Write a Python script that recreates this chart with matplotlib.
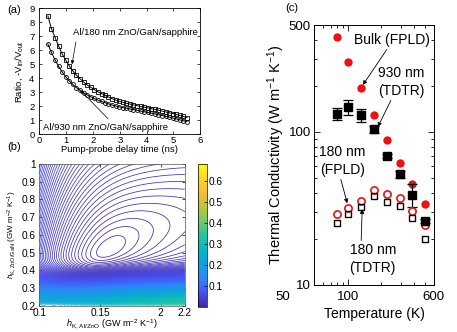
import numpy as np
import matplotlib
matplotlib.use("Agg")
import matplotlib.pyplot as plt
from matplotlib.colors import LinearSegmentedColormap
from matplotlib.ticker import FixedLocator, NullFormatter
from matplotlib.transforms import ScaledTranslation

plt.rcParams['font.family'] = ['Liberation Sans', 'DejaVu Sans']
plt.rcParams['mathtext.fontset'] = 'custom'
plt.rcParams['mathtext.rm'] = 'Liberation Sans'
plt.rcParams['mathtext.it'] = 'Liberation Sans:italic'

# (a) ratio vs delay time
delay = [0.32, 0.45, 0.59, 0.72, 0.85, 0.99, 1.12, 1.25, 1.38, 1.52,
         1.65, 1.78, 1.92, 2.05, 2.18, 2.32, 2.45, 2.58, 2.71, 2.85,
         2.98, 3.11, 3.25, 3.38, 3.51, 3.65, 3.78, 3.91, 4.04, 4.18,
         4.31, 4.44, 4.58, 4.71, 4.84, 4.98, 5.11, 5.24, 5.37, 5.51]
ratio_180 = [8.45, 7.55, 6.90, 6.30, 5.75, 5.28, 4.87, 4.52, 4.22, 3.96,
             3.73, 3.52, 3.35, 3.19, 3.04, 2.90, 2.77, 2.65, 2.54, 2.44,
             2.35, 2.28, 2.21, 2.15, 2.09, 2.03, 1.98, 1.93, 1.88, 1.82,
             1.77, 1.71, 1.65, 1.59, 1.53, 1.47, 1.41, 1.34, 1.27, 1.18]
ratio_930 = [6.45, 5.85, 5.30, 4.85, 4.45, 4.10, 3.80, 3.55, 3.33, 3.13,
             2.96, 2.81, 2.67, 2.55, 2.44, 2.34, 2.25, 2.16, 2.08, 2.01,
             1.95, 1.90, 1.85, 1.80, 1.75, 1.70, 1.65, 1.60, 1.55, 1.50,
             1.45, 1.39, 1.33, 1.27, 1.21, 1.15, 1.09, 1.02, 0.96, 0.89]

# (b) residual map parameters (best fit, widths, tilt, floor, bottom wall)
h_al_min, h_gan_min = 0.155, 0.5
width_al, width_gan, tilt = 0.00435, 0.0299, 1.3
res_floor = 2.5
ring_step = 0.0015
wall_height, wall_width = 0.21, 0.12

# (c) thermal conductivity vs temperature
temp = [80, 100, 132, 172, 226, 295, 377, 498]
k_bulk = [420, 286, 193, 129, 89, 63, 45.5, 34]
k_930 = [132, 146, 129, 104, 70, 53, 39, 26.3]
k_930_err = [12, 17, 13, 6, 2, 3, 6.5, 0.8]
k_180_fpld = [29.1, 32, 35.4, 41.8, 39.2, 36.9, 30.6, 24.7]
k_180_tdtr = [25.3, 29, 32.5, 38.3, 34.7, 32.8, 27.3, 19.9]

parula = LinearSegmentedColormap.from_list('parula', [
    (0.0, (0.2422, 0.1504, 0.6603)), (0.1, (0.2810, 0.3228, 0.9579)),
    (0.2, (0.1786, 0.5289, 0.9682)), (0.3, (0.0689, 0.6279, 0.8838)),
    (0.4, (0.0267, 0.7146, 0.7696)), (0.5, (0.1540, 0.7643, 0.6409)),
    (0.6, (0.4420, 0.7953, 0.4132)), (0.7, (0.7468, 0.7635, 0.2087)),
    (0.8, (0.9595, 0.7463, 0.2381)), (0.9, (0.9798, 0.8463, 0.1543)),
    (1.0, (0.9769, 0.9839, 0.0805))])

fig = plt.figure(figsize=(4.57, 3.32), dpi=100)
fs = 6.8

# ---- (a)
ax = fig.add_axes([0.086, 0.596, 0.352, 0.379])
ax.plot(delay, ratio_180, '-', color='k', lw=0.7)
ax.plot(delay, ratio_180, 's', mfc='none', mec='k', ms=2.8, mew=0.6)
ax.plot(delay, ratio_930, '-', color='k', lw=0.7)
ax.plot(delay, ratio_930, 'o', mfc='none', mec='k', ms=2.8, mew=0.6)
ax.set_xlim(0, 6)
ax.set_ylim(0, 9)
ax.set_xticks(range(7))
ax.set_yticks(range(10))
ax.tick_params(direction='in', top=True, right=True, labelsize=fs, length=2, width=0.5)
ax.tick_params(axis='x', pad=1)
ax.tick_params(axis='y', pad=3.5)
for s in ax.spines.values():
    s.set_linewidth(0.6)
ax.set_xlabel('Pump-probe delay time (ns)', fontsize=fs, labelpad=0)
ax.set_ylabel('Ratio, -V$_{\\rm in}$/V$_{\\rm out}$', fontsize=fs, labelpad=3)
ax.annotate('Al/180 nm ZnO/GaN/sapphire', xy=(1.22, 5.0), xytext=(1.26, 7.3),
            fontsize=fs, va='center', ha='left',
            arrowprops=dict(arrowstyle='-|>', lw=0.5, color='k', mutation_scale=5,
                            shrinkA=2, shrinkB=0, relpos=(0.03, 0)))
ax.annotate('Al/930 nm ZnO/GaN/sapphire', xy=(1.52, 3.15), xytext=(0.14, 0.5),
            fontsize=fs, va='center', ha='left',
            arrowprops=dict(arrowstyle='-|>', lw=0.5, color='k', mutation_scale=5,
                            shrinkA=1, shrinkB=0, relpos=(0.55, 1)))
fig.text(0.015, 0.985, '(a)', fontsize=8, va='top')

# ---- (b)
fb = 7.3
axb = fig.add_axes([0.0864, 0.0783, 0.318, 0.428])
hx = np.linspace(0.1, 0.22, 500)
hy = np.linspace(0.2, 1.0, 500)
X, Y = np.meshgrid(hx, hy)
un = (1 - (h_al_min / X) ** 2) / 2 * h_al_min / width_al
vn = (Y - h_gan_min) / width_gan
g = un**2 + vn**2 - tilt * un * vn
F = ring_step * np.sqrt(res_floor**2 + g)
F += wall_height * np.exp(-((Y - 0.2) / wall_width) ** 2) * (1 + 0.5 * (X - 0.1) / 0.12)
levels = np.arange(ring_step * 3.5, 0.68, ring_step)
axb.contour(X, Y, F, levels=levels, cmap=parula, vmin=0, vmax=0.68, linewidths=0.55)
axb.set_xlim(0.1, 0.22)
axb.set_ylim(0.2, 1.0)
axb.set_xticks([0.1, 0.15, 0.2, 0.22])
axb.set_xticklabels(['0.1', '0.15', '2', '2.2'])
axb.set_yticks(np.arange(0.2, 1.01, 0.1))
axb.set_yticklabels(['0.2', '0.3', '0.4', '0.5', '0.6', '0.7', '0.8', '0.9', '1'])
axb.tick_params(direction='in', top=True, right=True, labelsize=fb, length=2, width=0.5, pad=2.5)
axb.tick_params(axis='x', pad=1.5)
for s in axb.spines.values():
    s.set_linewidth(0.5)
    s.set_color('#555555')
axb.set_xlabel('$h_{\\rm K,\\,Al/ZnO}$ (GW m$^{-2}$ K$^{-1}$)', fontsize=6.5, labelpad=0)
axb.set_ylabel('$h_{\\rm K,\\,ZnO/GaN}$ (GW m$^{-2}$ K$^{-1}$)', fontsize=5.8, labelpad=2)
cax = fig.add_axes([0.433, 0.0753, 0.0197, 0.431])
sm = plt.cm.ScalarMappable(cmap=parula, norm=plt.Normalize(0, 0.68))
cb = fig.colorbar(sm, cax=cax)
cb.set_ticks([0.1, 0.2, 0.3, 0.4, 0.5, 0.6])
cb.ax.tick_params(direction='in', labelsize=fb, length=2, width=0.5, pad=1.5)
cb.outline.set_linewidth(0.5)
fig.text(0.015, 0.572, '(b)', fontsize=8, va='top')

# ---- (c)
fc = 10
axc = fig.add_axes([0.688, 0.1416, 0.2615, 0.783])
axc.plot(temp, k_bulk, 'o', color='#ee1111', ms=6, mec='none')
axc.errorbar(temp, k_930, yerr=k_930_err, fmt='s', color='k', ms=5.2,
             capsize=3.4, elinewidth=0.9, capthick=0.9)
axc.plot(temp, k_180_fpld, 'o', mfc='none', mec='#ee1111', ms=5.2, mew=1.2)
axc.plot(temp, k_180_tdtr, 's', mfc='none', mec='k', ms=4.8, mew=1.0)
axc.set_xscale('log')
axc.set_yscale('log')
axc.set_xlim(50, 600)
axc.set_ylim(10, 500)
axc.xaxis.set_major_locator(FixedLocator([50, 100, 600]))
axc.xaxis.set_minor_locator(FixedLocator([60, 70, 80, 90, 200, 300, 400, 500]))
axc.xaxis.set_minor_formatter(NullFormatter())
axc.set_xticklabels(['50', '100', '600'])
axc.yaxis.set_major_locator(FixedLocator([10, 100, 500]))
axc.yaxis.set_minor_locator(FixedLocator([20, 30, 40, 50, 60, 70, 80, 90, 200, 300, 400]))
axc.yaxis.set_minor_formatter(NullFormatter())
axc.set_yticklabels(['10', '100', '500'])
axc.tick_params(which='both', direction='in', top=True, right=True, labelsize=9.5, width=0.6)
axc.tick_params(which='major', length=4)
axc.tick_params(which='minor', length=2.2)
axc.tick_params(axis='x', pad=4)
axc.tick_params(axis='y', pad=2.5)
# the "50" label sits left of the axis corner in the original
lab50 = axc.xaxis.get_major_ticks()[0].label1
lab50.set_transform(lab50.get_transform() + ScaledTranslation(-0.32, 0, fig.dpi_scale_trans))
for s in axc.spines.values():
    s.set_linewidth(0.7)
axc.set_xlabel('Temperature (K)', fontsize=fc, labelpad=3.5)
axc.set_ylabel('Thermal Conductivity (W m$^{-1}$ K$^{-1}$)', fontsize=fc + 0.5, labelpad=1)
ap = dict(arrowstyle='-|>', lw=0.6, color='k', mutation_scale=6, shrinkA=0, shrinkB=0)
axc.annotate('Bulk (FPLD)', xy=(137, 203), xytext=(115, 400), fontsize=fc,
             ha='left', va='center', arrowprops=dict(ap, relpos=(0.45, 0)))
axc.annotate('930 nm\n(TDTR)', xy=(187, 108), xytext=(306, 212), fontsize=fc,
             ha='center', va='center', linespacing=1.3, arrowprops=dict(ap, relpos=(0.3, 0)))
axc.annotate('180 nm\n(FPLD)', xy=(99, 34.2), xytext=(89.5, 64.6), fontsize=fc,
             ha='center', va='center', linespacing=1.3, arrowprops=dict(ap, relpos=(0.45, 0)))
axc.annotate('180 nm\n(TDTR)', xy=(135, 31.3), xytext=(168, 14.8), fontsize=fc,
             ha='center', va='center', linespacing=1.3, arrowprops=dict(ap, relpos=(0.25, 1)))
fig.text(0.624, 0.99, '(c)', fontsize=8, va='top')

fig.savefig('out.png', dpi=100)
